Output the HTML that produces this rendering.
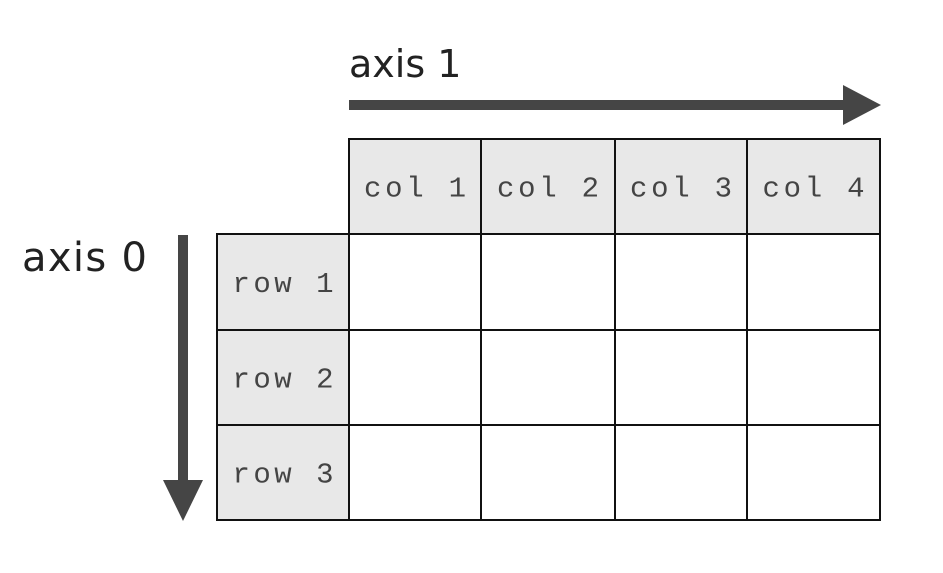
<!DOCTYPE html>
<html><head><meta charset="utf-8"><style>
html,body{margin:0;padding:0;background:#fff;width:943px;height:573px;overflow:hidden}
</style></head><body>
<svg width="943" height="573" viewBox="0 0 943 573">
<g id="grid"></g>
<g>
<rect x="349" y="100" width="496" height="10" fill="#454545"/>
<polygon points="843,85 881,105 843,125" fill="#454545"/>
</g>
<text x="349" y="77" font-family="'DejaVu Sans','Liberation Sans',sans-serif" font-size="38" fill="#222">axis 1</text>
<g>
<rect x="178" y="235" width="10" height="248" fill="#454545"/>
<polygon points="163,480 203,480 183,521" fill="#454545"/>
</g>
<text x="22" y="271" font-family="'DejaVu Sans','Liberation Sans',sans-serif" font-size="40" textLength="125" fill="#222">axis 0</text>
</svg>
<script>
const colLabels=["col 1","col 2","col 3","col 4"];
const rowLabels=["row 1","row 2","row 3"];
const colX=[349,481,615,747,880];
const rowY=[139,234,330,425,520];
const hdrX=217;
const ns="http://www.w3.org/2000/svg";
const g=document.getElementById('grid');
function mk(t,a){const e=document.createElementNS(ns,t);for(const k in a)e.setAttribute(k,a[k]);g.appendChild(e);return e;}
colLabels.forEach((c,i)=>{
 const r=mk('rect',{x:colX[i],y:rowY[0],width:colX[i+1]-colX[i],height:rowY[1]-rowY[0],fill:'#e8e8e8',stroke:'#111','stroke-width':2});
 
 
 const t=mk('text',{x:(colX[i]+colX[i+1])/2,y:(rowY[0]+rowY[1])/2+10,'text-anchor':'middle','font-family':"'Liberation Mono',monospace",'font-size':29,textLength:102,fill:'#444'});
 t.textContent=c;
 
 
});
rowLabels.forEach((rl,j)=>{
 const r=mk('rect',{x:hdrX,y:rowY[j+1],width:colX[0]-hdrX,height:rowY[j+2]-rowY[j+1],fill:'#e8e8e8',stroke:'#111','stroke-width':2});
 
 
 const t=mk('text',{x:(hdrX+colX[0])/2,y:(rowY[j+1]+rowY[j+2])/2+10,'text-anchor':'middle','font-family':"'Liberation Mono',monospace",'font-size':29,textLength:101,fill:'#444'});
 t.textContent=rl;
 
 
 colLabels.forEach((c,i)=>{
  const cell=mk('rect',{x:colX[i],y:rowY[j+1],width:colX[i+1]-colX[i],height:rowY[j+2]-rowY[j+1],fill:'#fff',stroke:'#111','stroke-width':2});
  
  
 });
});
</script>
</body></html>
